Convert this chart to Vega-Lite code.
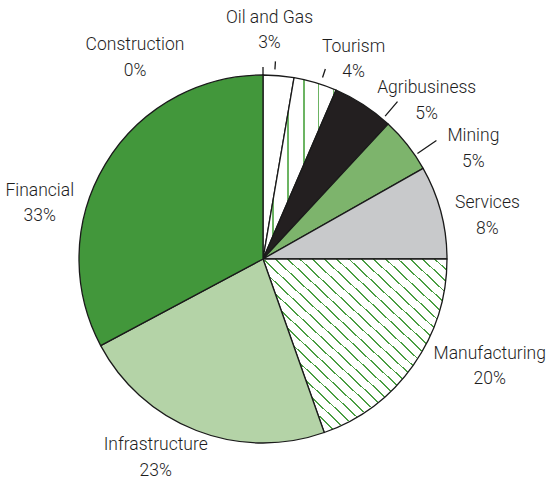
{
  "$schema": "https://vega.github.io/schema/vega-lite/v6.json",
  "width": 526,
  "height": 518,
  "autosize": "none",
  "padding": {"left": 0, "top": 0, "right": 22, "bottom": 0},
  "background": "white",
  "config": {"view": {"stroke": null}},
  "data": {"values": [
    {"sector": "Construction", "value": 0, "order": 1},
    {"sector": "Oil and Gas", "value": 2.7, "order": 2},
    {"sector": "Tourism", "value": 3.8, "order": 3},
    {"sector": "Agribusiness", "value": 5.4, "order": 4},
    {"sector": "Mining", "value": 4.9, "order": 5},
    {"sector": "Services", "value": 8.2, "order": 6},
    {"sector": "Manufacturing", "value": 19.6, "order": 7},
    {"sector": "Infrastructure", "value": 22.6, "order": 8},
    {"sector": "Financial", "value": 32.8, "order": 9}
  ]},
  "transform": [
    {"window": [{"op": "sum", "field": "value", "as": "end"}], "sort": [{"field": "order"}], "frame": [null, 0]},
    {"calculate": "datum.end - datum.value", "as": "start"},
    {"calculate": "datum.end - datum.value / 2", "as": "mid"},
    {"calculate": "datum.sector + '\\n' + format(datum.value, '.0f') + '%'", "as": "label"}
  ],
  "layer": [
    {
      "mark": {"type": "arc", "outerRadius": 184, "stroke": "#1a1a1a", "strokeWidth": 1.3, "strokeJoin": "round"},
      "encoding": {
        "theta": {"field": "start", "type": "quantitative", "stack": null, "scale": {"domain": [0, 100], "nice": false, "range": [0, 6.283185307179586]}},
        "theta2": {"field": "end"},
        "fill": {
          "condition": [
            {"test": "datum.sector === 'Tourism'", "value": {"gradient": "linear", "x1": 0, "y1": 0, "x2": 1, "y2": 0, "stops": [
              {"offset": 0, "color": "#ffffff"},
              {"offset": 0.130, "color": "#ffffff"}, {"offset": 0.130, "color": "#6cb463"}, {"offset": 0.144, "color": "#6cb463"}, {"offset": 0.144, "color": "#ffffff"},
              {"offset": 0.335, "color": "#ffffff"}, {"offset": 0.335, "color": "#6cb463"}, {"offset": 0.349, "color": "#6cb463"}, {"offset": 0.349, "color": "#ffffff"},
              {"offset": 0.554, "color": "#ffffff"}, {"offset": 0.554, "color": "#6cb463"}, {"offset": 0.568, "color": "#6cb463"}, {"offset": 0.568, "color": "#ffffff"},
              {"offset": 0.759, "color": "#ffffff"}, {"offset": 0.759, "color": "#6cb463"}, {"offset": 0.773, "color": "#6cb463"}, {"offset": 0.773, "color": "#ffffff"},
              {"offset": 0.964, "color": "#ffffff"}, {"offset": 0.964, "color": "#6cb463"}, {"offset": 0.978, "color": "#6cb463"}, {"offset": 0.978, "color": "#ffffff"},
              {"offset": 1, "color": "#ffffff"}
            ]}},
            {"test": "datum.sector === 'Manufacturing'", "value": {"gradient": "linear", "x1": 0, "y1": 1, "x2": 1, "y2": 0, "stops": [
              {"offset": 0, "color": "#ffffff"},
              {"offset": 0.0308, "color": "#ffffff"}, {"offset": 0.0308, "color": "#4a9e42"}, {"offset": 0.0358, "color": "#4a9e42"}, {"offset": 0.0358, "color": "#ffffff"},
              {"offset": 0.0642, "color": "#ffffff"}, {"offset": 0.0642, "color": "#4a9e42"}, {"offset": 0.0692, "color": "#4a9e42"}, {"offset": 0.0692, "color": "#ffffff"},
              {"offset": 0.0975, "color": "#ffffff"}, {"offset": 0.0975, "color": "#4a9e42"}, {"offset": 0.1025, "color": "#4a9e42"}, {"offset": 0.1025, "color": "#ffffff"},
              {"offset": 0.1308, "color": "#ffffff"}, {"offset": 0.1308, "color": "#4a9e42"}, {"offset": 0.1358, "color": "#4a9e42"}, {"offset": 0.1358, "color": "#ffffff"},
              {"offset": 0.1642, "color": "#ffffff"}, {"offset": 0.1642, "color": "#4a9e42"}, {"offset": 0.1692, "color": "#4a9e42"}, {"offset": 0.1692, "color": "#ffffff"},
              {"offset": 0.1975, "color": "#ffffff"}, {"offset": 0.1975, "color": "#4a9e42"}, {"offset": 0.2025, "color": "#4a9e42"}, {"offset": 0.2025, "color": "#ffffff"},
              {"offset": 0.2308, "color": "#ffffff"}, {"offset": 0.2308, "color": "#4a9e42"}, {"offset": 0.2358, "color": "#4a9e42"}, {"offset": 0.2358, "color": "#ffffff"},
              {"offset": 0.2642, "color": "#ffffff"}, {"offset": 0.2642, "color": "#4a9e42"}, {"offset": 0.2692, "color": "#4a9e42"}, {"offset": 0.2692, "color": "#ffffff"},
              {"offset": 0.2975, "color": "#ffffff"}, {"offset": 0.2975, "color": "#4a9e42"}, {"offset": 0.3025, "color": "#4a9e42"}, {"offset": 0.3025, "color": "#ffffff"},
              {"offset": 0.3308, "color": "#ffffff"}, {"offset": 0.3308, "color": "#4a9e42"}, {"offset": 0.3358, "color": "#4a9e42"}, {"offset": 0.3358, "color": "#ffffff"},
              {"offset": 0.3642, "color": "#ffffff"}, {"offset": 0.3642, "color": "#4a9e42"}, {"offset": 0.3692, "color": "#4a9e42"}, {"offset": 0.3692, "color": "#ffffff"},
              {"offset": 0.3975, "color": "#ffffff"}, {"offset": 0.3975, "color": "#4a9e42"}, {"offset": 0.4025, "color": "#4a9e42"}, {"offset": 0.4025, "color": "#ffffff"},
              {"offset": 0.4308, "color": "#ffffff"}, {"offset": 0.4308, "color": "#4a9e42"}, {"offset": 0.4358, "color": "#4a9e42"}, {"offset": 0.4358, "color": "#ffffff"},
              {"offset": 0.4642, "color": "#ffffff"}, {"offset": 0.4642, "color": "#4a9e42"}, {"offset": 0.4692, "color": "#4a9e42"}, {"offset": 0.4692, "color": "#ffffff"},
              {"offset": 0.4975, "color": "#ffffff"}, {"offset": 0.4975, "color": "#4a9e42"}, {"offset": 0.5025, "color": "#4a9e42"}, {"offset": 0.5025, "color": "#ffffff"},
              {"offset": 0.5308, "color": "#ffffff"}, {"offset": 0.5308, "color": "#4a9e42"}, {"offset": 0.5358, "color": "#4a9e42"}, {"offset": 0.5358, "color": "#ffffff"},
              {"offset": 0.5642, "color": "#ffffff"}, {"offset": 0.5642, "color": "#4a9e42"}, {"offset": 0.5692, "color": "#4a9e42"}, {"offset": 0.5692, "color": "#ffffff"},
              {"offset": 0.5975, "color": "#ffffff"}, {"offset": 0.5975, "color": "#4a9e42"}, {"offset": 0.6025, "color": "#4a9e42"}, {"offset": 0.6025, "color": "#ffffff"},
              {"offset": 0.6308, "color": "#ffffff"}, {"offset": 0.6308, "color": "#4a9e42"}, {"offset": 0.6358, "color": "#4a9e42"}, {"offset": 0.6358, "color": "#ffffff"},
              {"offset": 0.6642, "color": "#ffffff"}, {"offset": 0.6642, "color": "#4a9e42"}, {"offset": 0.6692, "color": "#4a9e42"}, {"offset": 0.6692, "color": "#ffffff"},
              {"offset": 0.6975, "color": "#ffffff"}, {"offset": 0.6975, "color": "#4a9e42"}, {"offset": 0.7025, "color": "#4a9e42"}, {"offset": 0.7025, "color": "#ffffff"},
              {"offset": 0.7308, "color": "#ffffff"}, {"offset": 0.7308, "color": "#4a9e42"}, {"offset": 0.7358, "color": "#4a9e42"}, {"offset": 0.7358, "color": "#ffffff"},
              {"offset": 0.7642, "color": "#ffffff"}, {"offset": 0.7642, "color": "#4a9e42"}, {"offset": 0.7692, "color": "#4a9e42"}, {"offset": 0.7692, "color": "#ffffff"},
              {"offset": 0.7975, "color": "#ffffff"}, {"offset": 0.7975, "color": "#4a9e42"}, {"offset": 0.8025, "color": "#4a9e42"}, {"offset": 0.8025, "color": "#ffffff"},
              {"offset": 0.8308, "color": "#ffffff"}, {"offset": 0.8308, "color": "#4a9e42"}, {"offset": 0.8358, "color": "#4a9e42"}, {"offset": 0.8358, "color": "#ffffff"},
              {"offset": 0.8642, "color": "#ffffff"}, {"offset": 0.8642, "color": "#4a9e42"}, {"offset": 0.8692, "color": "#4a9e42"}, {"offset": 0.8692, "color": "#ffffff"},
              {"offset": 0.8975, "color": "#ffffff"}, {"offset": 0.8975, "color": "#4a9e42"}, {"offset": 0.9025, "color": "#4a9e42"}, {"offset": 0.9025, "color": "#ffffff"},
              {"offset": 0.9308, "color": "#ffffff"}, {"offset": 0.9308, "color": "#4a9e42"}, {"offset": 0.9358, "color": "#4a9e42"}, {"offset": 0.9358, "color": "#ffffff"},
              {"offset": 0.9642, "color": "#ffffff"}, {"offset": 0.9642, "color": "#4a9e42"}, {"offset": 0.9692, "color": "#4a9e42"}, {"offset": 0.9692, "color": "#ffffff"},
              {"offset": 1, "color": "#ffffff"}
            ]}}
          ],
          "field": "sector",
          "type": "nominal",
          "scale": {
            "domain": ["Construction", "Oil and Gas", "Tourism", "Agribusiness", "Mining", "Services", "Manufacturing", "Infrastructure", "Financial"],
            "range": ["#ffffff", "#ffffff", "#ffffff", "#231f20", "#7db46c", "#c8c9cb", "#ffffff", "#b4d3a7", "#42973b"]
          },
          "legend": null
        }
      }
    },
    {
      "transform": [{"filter": "datum.order <= 5"}],
      "mark": {
        "type": "arc",
        "filled": false,
        "stroke": "#1a1a1a",
        "strokeWidth": 1.3,
        "thetaOffset": {"expr": "[0, -0.022, 0.028, 0.129, 0.07][datum.order - 1]"},
        "theta2Offset": {"expr": "[0, -0.022, 0.028, 0.129, 0.07][datum.order - 1]"},
        "innerRadius": {"expr": "[184, 190, 191, 188, 187][datum.order - 1]"},
        "outerRadius": {"expr": "[192, 198, 200, 207, 210][datum.order - 1]"}
      },
      "encoding": {
        "theta": {"field": "mid", "type": "quantitative", "stack": null},
        "theta2": {"field": "mid"}
      }
    },
    {
      "mark": {
        "type": "text",
        "radius": 230,
        "font": "Roboto",
        "fontSize": 17.5,
        "fontWeight": 300,
        "fill": "#1e1e1e",
        "lineBreak": "\n",
        "lineHeight": 25.5,
        "align": "center",
        "baseline": "middle",
        "dx": {"expr": "[-128, -13, 25, 38, 30, 2, 39, -24, -26][datum.order - 1]"},
        "dy": {"expr": "[16, -12, 8, 22, 20, 3, -38, -28, 50][datum.order - 1]"}
      },
      "encoding": {
        "theta": {"field": "mid", "type": "quantitative", "stack": null},
        "text": {"field": "label"}
      }
    }
  ]
}
